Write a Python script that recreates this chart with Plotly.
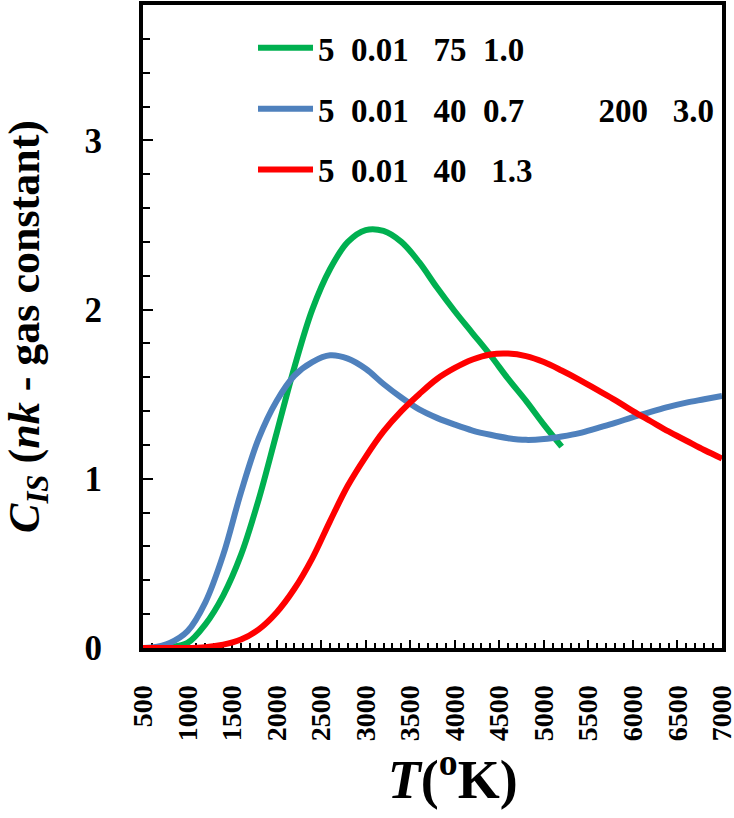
import plotly.graph_objects as go

NB = "\u00a0"
ZW = "\u200b"

# ---- data ----
green_T = [500, 600, 800, 1000, 1200, 1400, 1600, 1800, 2000, 2200, 2400, 2600, 2800,
           3000, 3200, 3400, 3600, 3800, 4000, 4200, 4400, 4600, 4800, 5000, 5200]
green_C = [0.0, 0.0, 0.005, 0.03, 0.14, 0.31, 0.55, 0.88, 1.27, 1.66, 2.00, 2.24, 2.40,
           2.47, 2.465, 2.40, 2.28, 2.13, 1.99, 1.86, 1.73, 1.59, 1.46, 1.32, 1.19]

blue_T = [500, 600, 800, 1000, 1200, 1400, 1600, 1800, 2000, 2200, 2400, 2600, 2800,
          3000, 3200, 3400, 3600, 3800, 4000, 4200, 4400, 4600, 4800, 5000, 5200,
          5400, 5600, 5800, 6000, 6200, 6400, 6600, 6800, 7000]
blue_C = [0.0, 0.003, 0.03, 0.10, 0.27, 0.55, 0.92, 1.24, 1.46, 1.61, 1.69, 1.73, 1.71,
          1.65, 1.56, 1.48, 1.41, 1.36, 1.32, 1.285, 1.26, 1.24, 1.23, 1.235, 1.25,
          1.27, 1.30, 1.33, 1.365, 1.395, 1.425, 1.45, 1.47, 1.49]

red_T = [500, 600, 800, 1000, 1200, 1400, 1600, 1800, 2000, 2200, 2400, 2600, 2800, 3000, 3200,
         3400, 3600, 3800, 4000, 4200, 4400, 4600, 4800, 5000, 5200, 5400, 5600,
         5800, 6000, 6200, 6400, 6600, 6800, 7000]
red_C = [0.0, 0.0, 0.0, 0.0, 0.005, 0.02, 0.05, 0.11, 0.21, 0.35, 0.53, 0.75, 0.96, 1.13, 1.28,
         1.40, 1.50, 1.59, 1.655, 1.705, 1.735, 1.74, 1.725, 1.69, 1.64, 1.585, 1.525,
         1.465, 1.40, 1.34, 1.28, 1.225, 1.17, 1.12]

legend_labels = [
    f"5{NB*2}0.01{NB*3}75{NB*2}1.0",
    f"5{NB*2}0.01{NB*3}40{NB*2}0.7{NB*9}200{NB*3}3.0",
    f"5{NB*2}0.01{NB*3}40{NB*3}1.3",
]
colors = ["#00B050", "#4F81BD", "#FF0000"]

x_ticks = list(range(500, 7001, 500))
y_ticks = [0, 1, 2, 3]

FONT = "Liberation Serif"

fig = go.Figure()
for i, (T, C) in enumerate([(green_T, green_C), (blue_T, blue_C), (red_T, red_C)]):
    fig.add_trace(go.Scatter(
        x=T, y=C, mode="lines", name=legend_labels[i],
        line=dict(color=colors[i], width=6, shape="spline", smoothing=1.0),
        legendgroup=f"g{i}",
    ))

fig.update_layout(
    width=734, height=818,
    margin=dict(l=143, r=12, t=5, b=170),
    paper_bgcolor="white", plot_bgcolor="white",
    font=dict(family=FONT, color="black", weight="bold"),
    showlegend=True,
    legend=dict(
        x=0.19, y=0.977, xanchor="left", yanchor="top",
        bgcolor="rgba(0,0,0,0)",
        font=dict(family=FONT, size=33, color="black", weight="bold"),
        traceorder="grouped", tracegroupgap=15,
        itemwidth=55,
    ),
)

fig.update_xaxes(
    range=[500, 7000], automargin=False,
    tickmode="array", tickvals=x_ticks, ticktext=[str(v) for v in x_ticks],
    tickangle=-90,
    tickfont=dict(family=FONT, size=28, color="black", weight="bold"),
    ticklabeloverflow="allow",
    ticks="inside", ticklen=8, tickwidth=2, tickcolor="black",
    minor=dict(dtick=100, tick0=500, ticks="inside", ticklen=5, tickwidth=2, tickcolor="black"),
    showline=True, linecolor="black", linewidth=4, mirror=True,
    showgrid=False, zeroline=False,
    ticklabelstandoff=22,
    layer="below traces",
    title=dict(text=f"{ZW}{NB*3}<i>T</i>(<sup>o</sup>K)",
               font=dict(family=FONT, size=54, color="black", weight="bold"),
               standoff=8),
)

fig.update_yaxes(
    range=[0, 3.8], automargin=False,
    tickmode="array", tickvals=y_ticks, ticktext=[str(v) for v in y_ticks],
    tickfont=dict(family=FONT, size=35, color="black", weight="bold"),
    ticks="inside", ticklen=10, tickwidth=2, tickcolor="black",
    minor=dict(dtick=0.2, tick0=0, ticks="inside", ticklen=7, tickwidth=2, tickcolor="black"),
    showline=True, linecolor="black", linewidth=4, mirror=True,
    showgrid=False, zeroline=False,
    ticklabelstandoff=30,
    layer="below traces",
    title=dict(text="<i>C</i><sub><i>IS</i></sub> (<i>nk</i> - gas constant)",
               font=dict(family=FONT, size=44, color="black", weight="bold"),
               standoff=32),
)

fig.write_html("out.html",
               config={"displayModeBar": False},
               post_script="document.body.style.margin='0';document.body.style.padding='0';")
